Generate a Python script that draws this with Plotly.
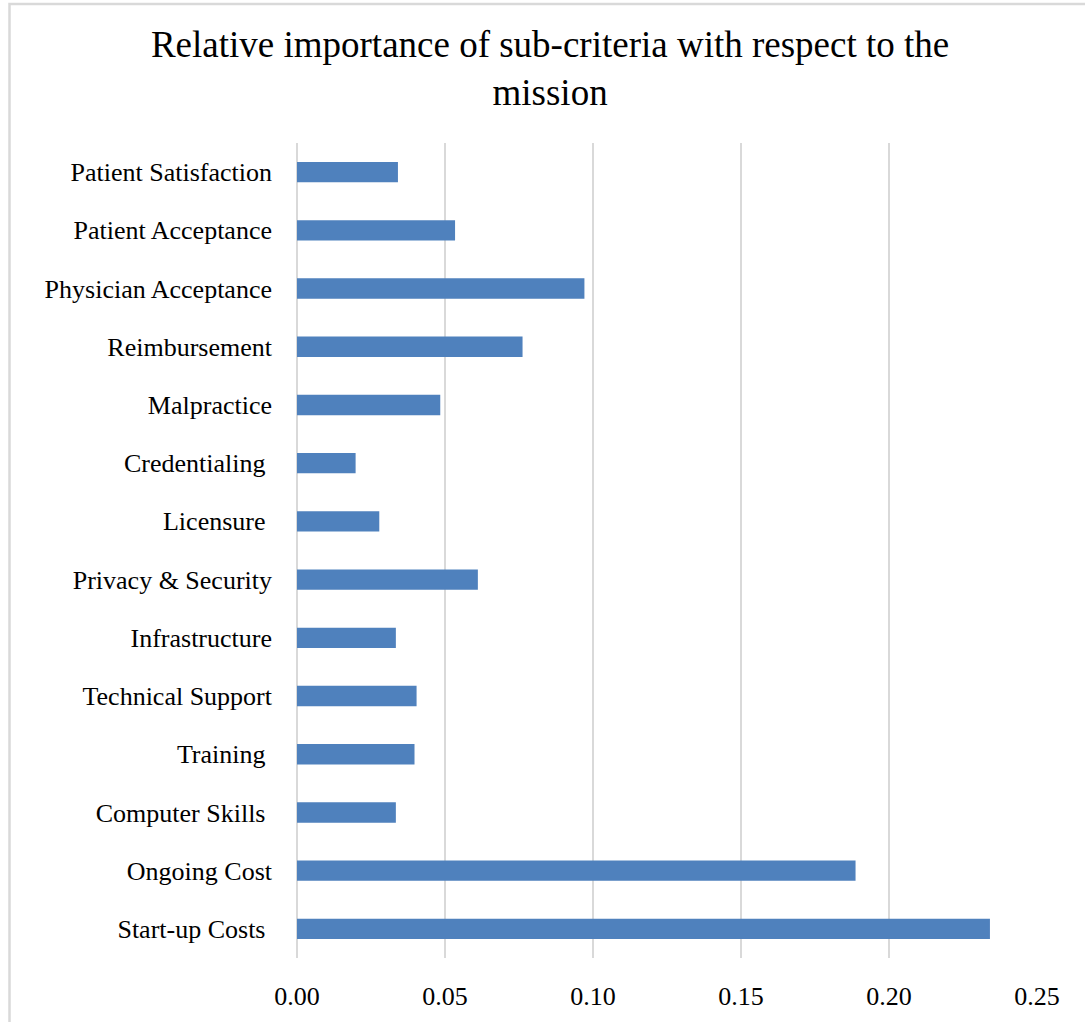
import plotly.graph_objects as go

categories = ["Start-up Costs\u00a0", "Ongoing Cost", "Computer Skills\u00a0", "Training\u00a0",
              "Technical Support", "Infrastructure", "Privacy & Security", "Licensure\u00a0",
              "Credentialing\u00a0", "Malpractice", "Reimbursement", "Physician Acceptance",
              "Patient Acceptance", "Patient Satisfaction"]
values = [0.2341, 0.1887, 0.0334, 0.0397, 0.0404, 0.0334, 0.0611, 0.0278,
          0.0198, 0.0484, 0.0762, 0.0971, 0.0534, 0.0341]
tick_vals = [0.0, 0.05, 0.10, 0.15, 0.20, 0.25]
tick_text = ["0.00", "0.05", "0.10", "0.15", "0.20", "0.25"]

fig = go.Figure(go.Bar(
    x=values, y=categories, orientation="h",
    marker=dict(color="#4F81BD", line=dict(width=0)),
    width=0.35,
))

fig.update_layout(
    width=1085, height=1022,
    margin=dict(l=297, r=48, t=143, b=64),
    paper_bgcolor="white", plot_bgcolor="white",
    title=dict(text="Relative importance of sub-criteria with respect to the<br>mission",
               x=0.507, xanchor="center", y=0.944, yanchor="top",
               font=dict(family="Liberation Serif", size=37, color="black")),
    font=dict(family="Liberation Serif", size=26, color="black"),
    showlegend=False,
    shapes=[dict(type="rect", xref="paper", yref="paper",
                 x0=-0.3885, x1=1.1, y0=-0.12, y1=1.1706,
                 line=dict(color="#D9D9D9", width=2.5))],
)
fig.update_xaxes(range=[0, 0.25], tickvals=tick_vals, ticktext=tick_text,
                 showgrid=True, gridcolor="#D9D9D9", gridwidth=2,
                 zeroline=True, zerolinecolor="#D9D9D9", zerolinewidth=2,
                 showline=False, ticks="", ticklabelstandoff=20,
                 tickfont=dict(family="Liberation Serif", size=26))
fig.update_yaxes(showgrid=False, showline=False, ticks="", ticklabelstandoff=24,
                 tickfont=dict(family="Liberation Serif", size=26),
                 range=[-0.5, 13.5])

fig.write_html("out.html")
